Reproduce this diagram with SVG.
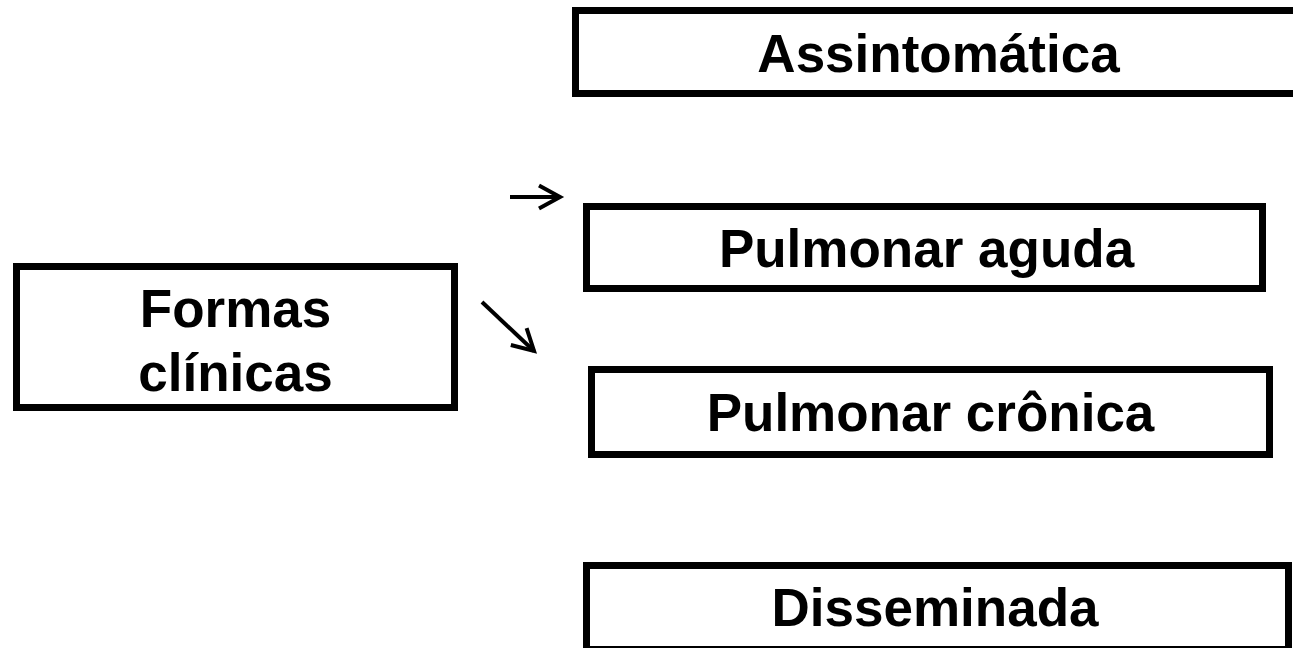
<svg xmlns="http://www.w3.org/2000/svg" width="1293" height="648" viewBox="0 0 1293 648">
  <style>
    .box { fill: #ffffff; stroke: #000000; stroke-width: 7; }
    .lbl { font-family: "Liberation Sans", Arial, sans-serif; font-weight: bold; font-size: 53px; fill: #000000; text-anchor: middle; }
    .conn { stroke: #000000; stroke-width: 4; fill: none; }
  </style>
  <defs>
    <marker id="arrow" markerUnits="userSpaceOnUse" viewBox="-26 -16 30 32" refX="0" refY="0" markerWidth="30" markerHeight="32" orient="auto" overflow="visible">
      <path d="M-21,-11.5 L0,0 L-21,11.5" fill="none" stroke="#000000" stroke-width="4" stroke-linejoin="miter"/>
    </marker>
  </defs>
  <rect width="1293" height="648" fill="#ffffff"/>

  <g id="formas">
    <rect class="box" x="16.5" y="266.5" width="438" height="141"/>
    <text class="lbl" x="235.5" y="327">Formas</text>
    <text class="lbl" x="235.5" y="391">clínicas</text>
  </g>

  <g id="assintomatica">
    <rect class="box" x="575.5" y="10.5" width="726" height="83"/>
    <text class="lbl" x="938.5" y="72">Assintomática</text>
  </g>

  <g id="pulmonar-aguda">
    <rect class="box" x="586.5" y="206.5" width="676" height="82"/>
    <text class="lbl" x="926.5" y="267">Pulmonar aguda</text>
  </g>

  <g id="pulmonar-cronica">
    <rect class="box" x="591.5" y="369.5" width="678" height="85"/>
    <text class="lbl" x="930.5" y="431">Pulmonar crônica</text>
  </g>

  <g id="disseminada">
    <rect class="box" x="586.5" y="565.5" width="702" height="84"/>
    <text class="lbl" x="935" y="626">Disseminada</text>
  </g>

  <g id="connectors">
    <line class="conn" x1="510" y1="197" x2="560" y2="197" marker-end="url(#arrow)"/>
    <line class="conn" x1="482" y1="302" x2="534" y2="351" marker-end="url(#arrow)"/>
  </g>
</svg>
